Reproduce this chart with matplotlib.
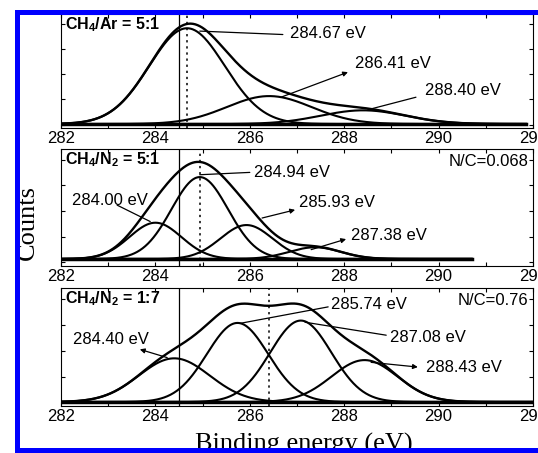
"""
XPS C1s spectra fitted with Gaussian components, three gas mixtures
"""

import numpy as np
import matplotlib
matplotlib.use('Agg')
import matplotlib.pyplot as plt
from matplotlib.patches import Rectangle
from matplotlib.ticker import MultipleLocator

# ---------------------------------------------------------------------------- #
# Data (counts in normalised units)
# ---------------------------------------------------------------------------- #

panel_labels = [r'CH$_\mathbf{4}$/Ar = 5:1', r'CH$_\mathbf{4}$/N$_\mathbf{2}$ = 5:1',
                r'CH$_\mathbf{4}$/N$_\mathbf{2}$ = 1:7']
nc_labels = [None, 'N/C=0.068', 'N/C=0.76']

peak_centres_1 = [284.67, 286.41, 288.40]
peak_heights_1 = [0.84, 0.245, 0.12]
peak_widths_1 = [0.80, 0.90, 0.90]

peak_centres_2 = [284.00, 284.94, 285.93, 287.38]
peak_heights_2 = [0.31, 0.70, 0.29, 0.10]
peak_widths_2 = [0.55, 0.60, 0.55, 0.55]

peak_centres_3 = [284.40, 285.74, 287.08, 288.43]
peak_heights_3 = [0.37, 0.67, 0.69, 0.355]
peak_widths_3 = [0.75, 0.65, 0.65, 0.70]

baselines = [0.035, 0.06, 0.034]
energy_max = [291.85, 290.7, 292.0]
solid_line_energy = 284.5
dotted_line_energy = [284.67, 284.94, 286.40]

# ---------------------------------------------------------------------------- #
# Layout: label text position and leader line (start, end), data coords
# ---------------------------------------------------------------------------- #

label_layout = [
    [(286.85, 0.83, (284.94, 0.85), (286.70, 0.82), False),
     (288.23, 0.57, (286.66, 0.27), (288.08, 0.49), True),
     (289.71, 0.33, (288.50, 0.16), (289.52, 0.27), False)],
    [(282.23, 0.56, (283.89, 0.38), (283.19, 0.52), False),
     (286.09, 0.80, (284.94, 0.78), (286.00, 0.80), False),
     (287.04, 0.54, (286.26, 0.41), (286.96, 0.48), True),
     (288.14, 0.26, (287.30, 0.14), (288.04, 0.23), True)],
    [(282.25, 0.56, (284.25, 0.41), (283.67, 0.48), True),
     (287.72, 0.86, (285.79, 0.70), (287.66, 0.84), False),
     (288.97, 0.58, (287.17, 0.71), (288.89, 0.60), False),
     (289.73, 0.33, (288.57, 0.37), (289.56, 0.33), True)],
]

# axes boxes in pixels: (top, bottom)
fig_w, fig_h = 538, 453
ax_left, ax_right = 61, 533
ax_rows = [(14, 128), (149, 266), (288, 406)]

plt.rcParams['font.family'] = ['Liberation Sans', 'DejaVu Sans']
plt.rcParams['mathtext.fontset'] = 'custom'
plt.rcParams['mathtext.rm'] = 'Liberation Sans'
plt.rcParams['mathtext.bf'] = 'Liberation Sans:bold'

fig = plt.figure(figsize=(fig_w / 100, fig_h / 100), dpi=100)

centres = [peak_centres_1, peak_centres_2, peak_centres_3]
heights = [peak_heights_1, peak_heights_2, peak_heights_3]
widths = [peak_widths_1, peak_widths_2, peak_widths_3]

for i, (top, bottom) in enumerate(ax_rows):
    ax = fig.add_axes([ax_left / fig_w, 1 - bottom / fig_h,
                       (ax_right - ax_left) / fig_w, (bottom - top) / fig_h])

    x = np.linspace(282, energy_max[i], 600)
    base = baselines[i]
    envelope = np.full_like(x, base)
    for c, h, w in zip(centres[i], heights[i], widths[i]):
        comp = h * np.exp(-(x - c) ** 2 / (2 * w ** 2))
        envelope += comp
        ax.plot(x, base + comp, color='black', lw=1.5)
    ax.plot(x, envelope, color='black', lw=1.7)
    ax.plot(x, np.full_like(x, base), color='black', lw=2.5)

    ax.axvline(solid_line_energy, color='black', lw=0.9)
    ax.axvline(dotted_line_energy[i], color='black', lw=1.1, ls=(0, (1.5, 2.5)))

    # Peak labels with leader lines
    for (tx, ty, start, end, head), c in zip(label_layout[i], centres[i]):
        ax.text(tx, ty, f'{c:.2f} eV', fontsize=12, ha='left', va='center')
        style = '-|>' if head else '-'
        ax.annotate('', xy=end, xytext=start,
                    arrowprops=dict(arrowstyle=style, color='black', lw=0.9,
                                    mutation_scale=7, shrinkA=0, shrinkB=0))

    ax.text(0.008, 0.985, panel_labels[i], transform=ax.transAxes,
            fontsize=11.5, fontweight='bold', ha='left', va='top')
    if nc_labels[i]:
        ax.text(0.99, 0.96, nc_labels[i], transform=ax.transAxes,
                fontsize=12, ha='right', va='top')

    ax.set_xlim(282, 292)
    ax.set_ylim(0, 1)
    ax.xaxis.set_major_locator(MultipleLocator(2))
    ax.xaxis.set_minor_locator(MultipleLocator(1))
    ax.set_yticks(np.arange(0.03, 1.0, 0.22))
    ax.set_yticklabels([])
    ax.tick_params(which='both', direction='in', top=True, right=True,
                   length=3, width=0.8, labelsize=12, pad=2)
    for spine in ax.spines.values():
        spine.set_linewidth(0.8)

fig.text(28 / fig_w, 1 - 222 / fig_h, 'Counts', rotation=90, fontsize=19,
         family='Liberation Serif', ha='center', va='center')
fig.text(304 / fig_w, 1 - 451 / fig_h, 'Binding energy (eV)', fontsize=19,
         family='Liberation Serif', ha='center', va='baseline')

# Blue frame of the scanned figure
blue = (0, 0, 1)
for (x0, y0, w, h) in [(15, 10, 523, 5), (15, 10, 5, 443), (15, 448, 523, 5)]:
    fig.add_artist(Rectangle((x0 / fig_w, 1 - (y0 + h) / fig_h), w / fig_w, h / fig_h,
                             transform=fig.transFigure, color=blue, zorder=10, lw=0))

fig.savefig('out.png', dpi=100)
plt.close()
